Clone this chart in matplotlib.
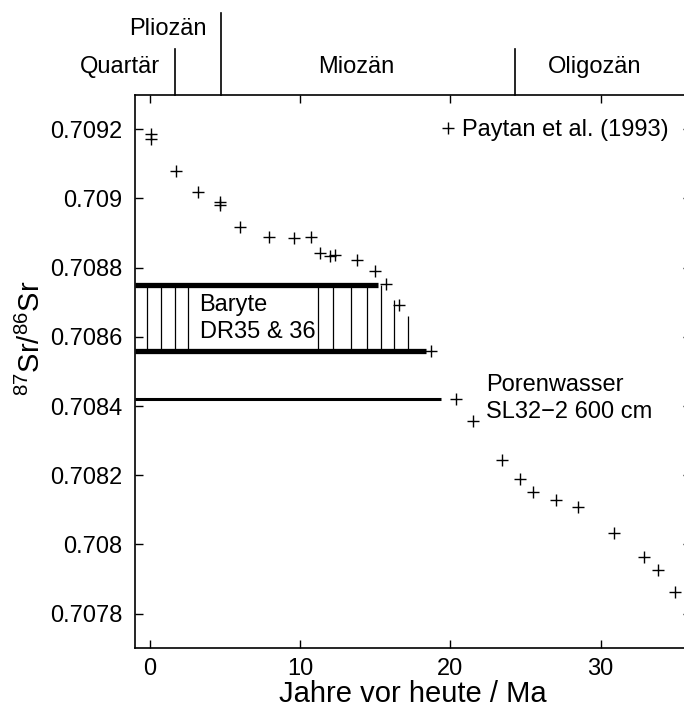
import numpy as np
import matplotlib
matplotlib.use("Agg")
import matplotlib.pyplot as plt
import matplotlib.transforms as mtrans

plt.rcParams["font.family"] = ["Liberation Sans", "DejaVu Sans"]
plt.rcParams["mathtext.default"] = "regular"

# ── data ──────────────────────────────────────────────────────
paytan_age = [0.05, 0.05, 1.7, 3.2, 4.66, 4.66, 6.0, 7.9, 9.6, 10.7, 11.3,
              12.0, 12.3, 13.8, 15.0, 15.7, 16.6, 18.7, 20.4, 21.5, 23.4,
              24.6, 25.5, 27.0, 28.5, 30.9, 32.9, 33.85, 34.96]
paytan_sr = [0.709186, 0.709171, 0.709080, 0.709020, 0.708991, 0.708980,
             0.708917, 0.708890, 0.708885, 0.708890, 0.708842, 0.708834,
             0.708836, 0.708823, 0.708790, 0.708754, 0.708693, 0.708559,
             0.708421, 0.708357, 0.708244, 0.708188, 0.708151, 0.708130,
             0.708108, 0.708034, 0.707965, 0.707926, 0.707864]

baryte_upper = 0.70875      # Sr ratio, ends at baryte_upper_end
baryte_lower = 0.70856
baryte_upper_end = 15.2
baryte_lower_end = 18.4
hatch_age = [-0.2, 0.7, 1.65, 2.5, 11.16, 12.17, 13.4, 14.42, 15.4, 16.24, 17.2]
hatch_top = [0.70875] * 9 + [0.708707, 0.708661]

pore_sr = 0.70842
pore_end = 19.4

epoch_bounds = [1.65, 4.7, 24.3]
epoch_names = ["Quartär", "Pliozän", "Miozän", "Oligozän"]

yticks = [0.7078, 0.708, 0.7082, 0.7084, 0.7086, 0.7088, 0.709, 0.7092]
ytick_labels = ["0.7078", "0.708", "0.7082", "0.7084",
                "0.7086", "0.7088", "0.709", "0.7092"]
xticks = [0, 10, 20, 30]

XMIN, XMAX = -1, 36
YMIN, YMAX = 0.7077, 0.7093

# ── figure ────────────────────────────────────────────────────
fig = plt.figure(figsize=(6.84, 7.15), dpi=100)
ax = fig.add_axes([0.1974, 0.0933, 0.8125, 0.7743])

ax.plot(paytan_age, paytan_sr, ls="none", marker="+", ms=8, mew=1.0,
        color="black", label="Paytan et al. (1993)")

# baryte band
ax.hlines(baryte_upper, XMIN, baryte_upper_end, color="black", lw=3.8)
ax.hlines(baryte_lower, XMIN, baryte_lower_end, color="black", lw=3.8)
ax.vlines(hatch_age, baryte_lower, hatch_top, color="black", lw=0.9)
ax.text(3.3, 0.708654, "Baryte\nDR35 & 36", fontsize=17,
        va="center", ha="left", linespacing=1.3)

# pore water
ax.hlines(pore_sr, XMIN, pore_end, color="black", lw=2.2)
ax.text(22.4, 0.708423, "Porenwasser\nSL32\u22122 600 cm", fontsize=17,
        va="center", ha="left", linespacing=1.3)

ax.set_xlim(XMIN, XMAX)
ax.set_ylim(YMIN, YMAX)
ax.set_xticks(xticks)
ax.set_yticks(yticks)
ax.set_yticklabels(ytick_labels)
ax.tick_params(direction="in", length=6, width=1.0, top=True, right=True,
               labelsize=17, pad=9)
ax.tick_params(axis="x", pad=7)
for sp in ax.spines.values():
    sp.set_linewidth(1.2)

ax.set_xlabel("Jahre vor heute / Ma", fontsize=21, labelpad=0)
ax.set_ylabel("$^{87}$Sr/$^{86}$Sr", fontsize=21)
ax.yaxis.set_label_coords(-0.161, 0.56)

leg = ax.legend(loc="upper right", bbox_to_anchor=(0.960, 0.956),
                frameon=False, fontsize=17, handlelength=0.6,
                handletextpad=0.3, borderaxespad=0, borderpad=0)

# ── epoch bar above the axes ──────────────────────────────────
trans = mtrans.blended_transform_factory(ax.transData, ax.transAxes)
line_tops = [1.082, 1.147, 1.082]
for b, top in zip(epoch_bounds, line_tops):
    ax.plot([b, b], [1.0, top], color="black", lw=1.2,
            transform=trans, clip_on=False)

ax.text(0.65, 1.0506, epoch_names[0], fontsize=17, ha="right",
        va="center", transform=trans)
ax.text(3.8, 1.118, epoch_names[1], fontsize=17, ha="right",
        va="center", transform=trans)
ax.text(13.7, 1.0506, epoch_names[2], fontsize=17, ha="center",
        va="center", transform=trans)
ax.text(29.6, 1.0506, epoch_names[3], fontsize=17, ha="center",
        va="center", transform=trans)

fig.savefig("out.png", dpi=100)
